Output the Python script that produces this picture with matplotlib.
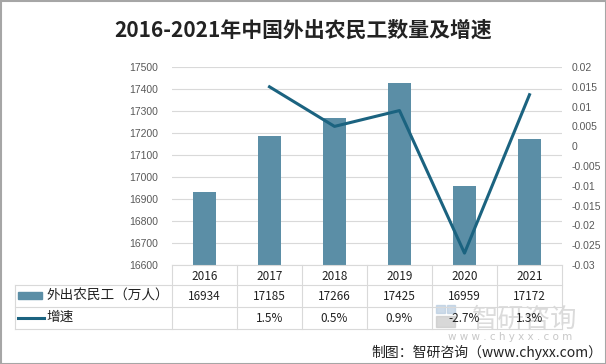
import matplotlib.pyplot as plt
from matplotlib.patches import Rectangle
from matplotlib.lines import Line2D

plt.rcParams['font.family'] = ['Noto Sans CJK SC', 'DejaVu Sans']

# data
years = ['2016', '2017', '2018', '2019', '2020', '2021']
workers = [16934, 17185, 17266, 17425, 16959, 17172]
growth = [None, 0.015, 0.005, 0.009, -0.027, 0.013]
growth_labels = ['', '1.5%', '0.5%', '0.9%', '-2.7%', '1.3%']
left_ticks = list(range(16600, 17501, 100))
right_ticks = [0.02, 0.015, 0.01, 0.005, 0, -0.005, -0.01, -0.015, -0.02, -0.025, -0.03]

W, H = 606, 364
fig = plt.figure(figsize=(W / 100, H / 100), dpi=100)

bar_color = '#5b8ea6'
line_color = '#1b6380'
grid_color = '#d9d9d9'
tick_color = '#595959'

# plot area in pixels
px0, px1, py0, py1 = 172, 562, 67, 265
ax = fig.add_axes([px0 / W, 1 - py1 / H, (px1 - px0) / W, (py1 - py0) / H])
x = list(range(len(years)))
ax.bar(x, workers, width=0.35, color=bar_color, zorder=2)
ax.set_xlim(-0.5, len(years) - 0.5)
ax.set_ylim(16600, 17500)
ax.set_yticks(left_ticks)
ax.set_yticklabels([str(t) for t in left_ticks], color=tick_color, fontsize=7.5,
                   family=['Liberation Sans'])
ax.tick_params(axis='y', length=0, pad=10)
ax.set_xticks([])
ax.grid(axis='y', color=grid_color, linewidth=0.8, zorder=0)
for s in ['top', 'right', 'left']:
    ax.spines[s].set_visible(False)
ax.spines['bottom'].set_color(grid_color)

ax2 = ax.twinx()
gx = [i for i, g in zip(x, growth) if g is not None]
gy = [g for g in growth if g is not None]
ax2.plot(gx, gy, color=line_color, linewidth=2.2, zorder=3)
ax2.set_ylim(-0.03, 0.02)
ax2.set_yticks(right_ticks)
ax2.set_yticklabels([f'{t:g}' for t in right_ticks], color=tick_color, fontsize=7.5,
                    family=['Liberation Sans'])
ax2.tick_params(axis='y', length=0, pad=7)
for s in ax2.spines.values():
    s.set_visible(False)

# overlay in pixel coords for table and decorations
ov = fig.add_axes([0, 0, 1, 1], facecolor='none')
ov.set_xlim(0, W)
ov.set_ylim(H, 0)
ov.axis('off')

# table grid
tx0 = 15
rows = [265, 285, 307, 329]
colw = (px1 - px0) / len(years)
for yy in rows[1:]:
    ov.plot([tx0, px1], [yy, yy], color=grid_color, lw=0.8)
ov.plot([tx0, tx0], [rows[1], rows[3]], color=grid_color, lw=0.8)
for i in range(len(years) + 1):
    xx = px0 + i * colw
    ov.plot([xx, xx], [rows[0], rows[3]], color=grid_color, lw=0.8)

for i, yr in enumerate(years):
    cx = px0 + (i + 0.5) * colw
    ov.text(cx, (rows[0] + rows[1]) / 2 + 1, yr, ha='center', va='center', fontsize=8.5, color='#222222')
    ov.text(cx, (rows[1] + rows[2]) / 2, str(workers[i]), ha='center', va='center', fontsize=8.5, color='#222222')
    ov.text(cx, (rows[2] + rows[3]) / 2, growth_labels[i], ha='center', va='center', fontsize=8.5, color='#222222')

ov.add_patch(Rectangle((18, 292), 24, 7, color=bar_color))
ov.text(46, 296, '外出农民工（万人）', ha='left', va='center', fontsize=9.8, color='#222222')
ov.add_line(Line2D([18, 44], [318, 318], color=line_color, lw=2.2))
ov.text(46, 317, '增速', ha='left', va='center', fontsize=9.8, color='#222222')

# watermark (sits under the table text like in the original)
ov.add_patch(Rectangle((436, 305), 9, 8, color='#b8cce0', alpha=0.7))
ov.add_patch(Rectangle((447, 305), 8, 8, color='#b8cce0', alpha=0.7))
ov.add_patch(Rectangle((436, 316), 19, 11, color='#c8c8c8', alpha=0.7))
ov.text(525, 319, '智研咨询', ha='center', va='center', fontsize=19, color='#cccccc',
        alpha=0.7, zorder=0)
ov.text(510, 337, 'w w w . c h y x x . c o m', ha='center', va='center', fontsize=7.5,
        color='#c8c8c8', family=['DejaVu Sans'], zorder=0)

# title and source
ov.text(W / 2, 30, '2016-2021年中国外出农民工数量及增速', ha='center', va='center',
        fontsize=15, fontweight='bold', color='#222222')
ov.text(602, 352, '制图：智研咨询（www.chyxx.com）', ha='right', va='center', fontsize=10, color='#222222')

# border
ov.add_patch(Rectangle((0.5, 0.5), W - 1, H - 1, fill=False, edgecolor='#a6a6a6', lw=1.5))

fig.savefig('out.png', dpi=100)
